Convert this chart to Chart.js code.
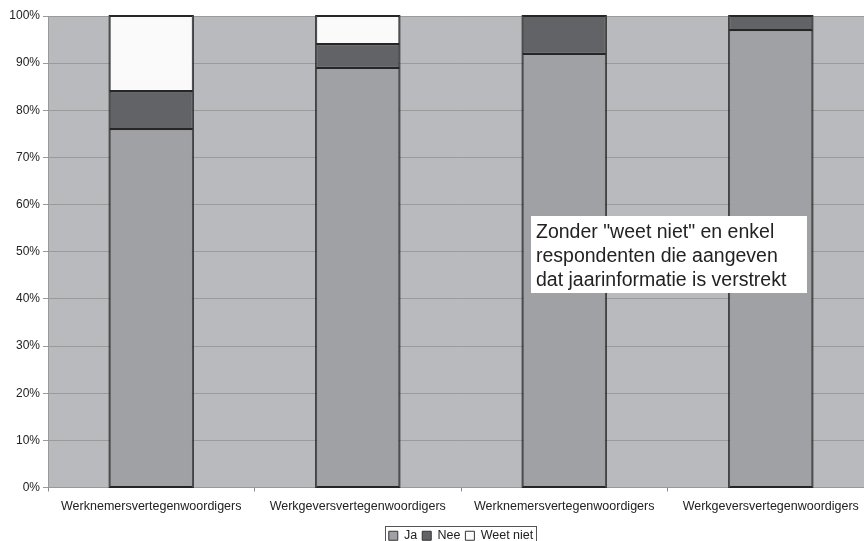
<!DOCTYPE html>
<html>
<head>
<meta charset="utf-8">
<script src="https://cdn.jsdelivr.net/npm/chart.js@4.4.1/dist/chart.umd.min.js"></script>
<style>
  html, body { margin: 0; padding: 0; background: #fff; overflow: hidden; }
  #wrap { width: 874px; height: 541px; position: relative; }
</style>
</head>
<body>
<div id="wrap"><canvas id="c" width="874" height="541"></canvas></div>
<script>
// Groups of respondents
const categories = [
  'Werknemersvertegenwoordigers',
  'Werkgeversvertegenwoordigers',
  'Werknemersvertegenwoordigers',
  'Werkgeversvertegenwoordigers'
];
// Answer shares in percent
const ja = [76, 89, 92, 97];
const nee = [8, 5, 8, 3];
const weetNiet = [16, 6, 0, 0];

const noteLines = [
  'Zonder "weet niet" en enkel',
  'respondenten die aangeven',
  'dat jaarinformatie is verstrekt'
];

const FONT = '"Liberation Sans", Arial, sans-serif';

// Grey plot background
const plotBackground = {
  id: 'plotBackground',
  beforeDraw(chart) {
    const { ctx, chartArea: a } = chart;
    ctx.save();
    ctx.fillStyle = '#b9babd';
    ctx.fillRect(a.left, a.top, a.right - a.left, a.bottom - a.top);
    ctx.restore();
  }
};

// Outline around each whole stacked column and crisp lines between segments
const stackOutline = {
  id: 'stackOutline',
  afterDatasetsDraw(chart) {
    const ctx = chart.ctx;
    const n = chart.data.datasets.length;
    const bottomMeta = chart.getDatasetMeta(0);
    const topMeta = chart.getDatasetMeta(n - 1);
    ctx.save();
    ctx.strokeStyle = '#262626';
    ctx.lineWidth = 1;
    bottomMeta.data.forEach((el, i) => {
      const t = topMeta.data[i];
      const left = el.x - el.width / 2, right = el.x + el.width / 2;
      const top = Math.min(t.y, t.base), base = el.base;
      ctx.strokeRect(left - 0.5, top - 0.5, right - left + 1, base - top + 1);
      ctx.lineWidth = 2;
      for (let d = 1; d < n; d++) {
        const seg = chart.getDatasetMeta(d).data[i];
        if (Math.abs(seg.base - seg.y) < 0.5) continue;
        const yb = Math.round(seg.base);
        ctx.beginPath();
        ctx.moveTo(left, yb);
        ctx.lineTo(right, yb);
        ctx.stroke();
      }
      ctx.lineWidth = 1;
    });
    ctx.restore();
  }
};

// Centre the legend under the plot area and put a frame around it
const legendFrame = {
  id: 'legendFrame',
  afterUpdate(chart) {
    const lg = chart.legend;
    const boxes = lg && lg.legendHitBoxes;
    if (!boxes || !boxes.length) return;
    const a = chart.chartArea;
    const first = boxes[0], last = boxes[boxes.length - 1];
    const curCx = (first.left + last.left + last.width) / 2;
    const curCy = first.top + first.height / 2;
    const dx = Math.round((a.left + a.right) / 2 - curCx);
    const dy = Math.round(536 - curCy);
    lg.left += dx; lg.right += dx; lg.top += dy; lg.bottom += dy;
    boxes.forEach(b => { b.left += dx; b.top += dy; });
  },
  afterDraw(chart) {
    const boxes = chart.legend && chart.legend.legendHitBoxes;
    if (!boxes || !boxes.length) return;
    const ctx = chart.ctx;
    const first = boxes[0], last = boxes[boxes.length - 1];
    const x0 = Math.round(first.left - 4), x1 = Math.round(last.left + last.width + 3);
    const y0 = 526;
    ctx.save();
    ctx.strokeStyle = '#555';
    ctx.lineWidth = 1;
    ctx.strokeRect(x0 + 0.5, y0 + 0.5, x1 - x0, 30);
    ctx.restore();
  }
};

// Text box with the note
const noteBox = {
  id: 'noteBox',
  afterDraw(chart) {
    const ctx = chart.ctx;
    const x = 531, y = 216, w = 276, h = 77;
    ctx.save();
    ctx.fillStyle = '#ffffff';
    ctx.fillRect(x, y, w, h);
    ctx.fillStyle = '#222';
    ctx.font = '19.5px ' + FONT;
    ctx.textBaseline = 'alphabetic';
    noteLines.forEach((t, i) => ctx.fillText(t, x + 5, 238 + i * 24));
    ctx.restore();
  }
};

const common = { borderColor: '#262626', borderWidth: 1, borderSkipped: false, barPercentage: 0.8, categoryPercentage: 0.503 };

new Chart(document.getElementById('c'), {
  type: 'bar',
  data: {
    labels: categories,
    datasets: [
      Object.assign({ label: 'Ja', data: ja, backgroundColor: '#a0a1a4' }, common),
      Object.assign({ label: 'Nee', data: nee, backgroundColor: '#626366' }, common),
      Object.assign({ label: 'Weet niet', data: weetNiet, backgroundColor: '#fafafa' }, common)
    ]
  },
  options: {
    responsive: false,
    animation: false,
    layout: { padding: { top: 16, right: 0, left: 0, bottom: 0 } },
    plugins: {
      tooltip: { enabled: false },
      legend: {
        position: 'bottom',
        labels: {
          font: { family: FONT, size: 12.5 },
          color: '#222',
          boxWidth: 9,
          boxHeight: 9,
          padding: 5,
          generateLabels(chart) {
            return chart.data.datasets.map((d, i) => ({
              text: d.label,
              fillStyle: d.backgroundColor,
              strokeStyle: '#333',
              lineWidth: 1,
              datasetIndex: i,
              fontColor: '#222'
            }));
          }
        }
      }
    },
    scales: {
      x: {
        stacked: true,
        grid: { display: true, drawOnChartArea: false, offset: true, tickLength: 4, color: '#888' },
        border: { color: '#999' },
        ticks: { font: { family: FONT, size: 12.5 }, color: '#222', maxRotation: 0, padding: 8 },
        afterFit(s) { s.height = 26; }
      },
      y: {
        stacked: true,
        min: 0,
        max: 100,
        grid: { color: '#9a9a9a', tickLength: 5 },
        border: { color: '#999' },
        ticks: {
          stepSize: 10,
          font: { family: FONT, size: 12 },
          color: '#222',
          padding: 3,
          callback: v => v + '%'
        },
        afterFit(s) { s.width = 48; }
      }
    }
  },
  plugins: [plotBackground, stackOutline, legendFrame, noteBox]
});
</script>
</body>
</html>
